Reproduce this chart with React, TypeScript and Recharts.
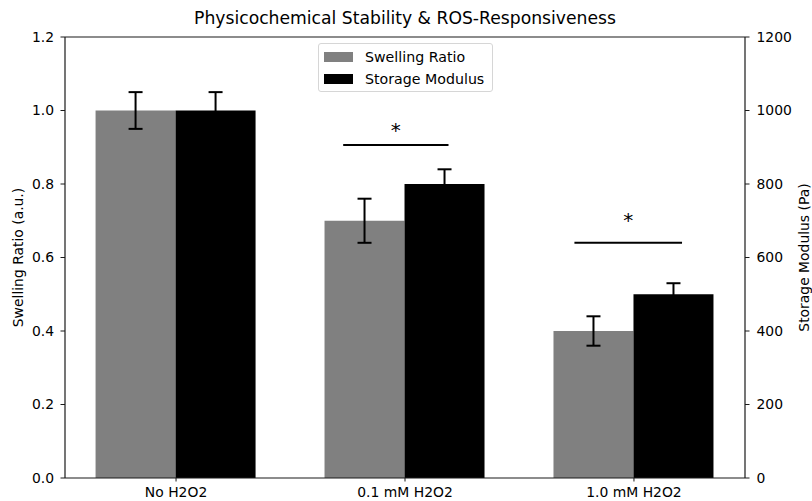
import React from "react";
import {
  BarChart,
  Bar,
  XAxis,
  YAxis,
  ErrorBar,
  ReferenceLine,
  ReferenceDot,
} from "recharts";

// ─── Data ─────────────────────────────────────────────────────────────────────

const categories = ["No H2O2", "0.1 mM H2O2", "1.0 mM H2O2"];
const swellingRatio = [1.0, 0.7, 0.4];
const swellingErr = [0.05, 0.06, 0.04];
const storageModulus = [1000, 800, 500];
const storageErr = [50, 40, 30];

const leftTicks = [0, 0.2, 0.4, 0.6, 0.8, 1.0, 1.2];
const rightTicks = [0, 200, 400, 600, 800, 1000, 1200];

// significance brackets: [x start, x end] in category units, bar height on left axis
const sigSpans = [
  [0.73, 1.19],
  [1.74, 2.21],
];
const sigLevels = [0.906, 0.64];
const sigStarLevels = [0.96, 0.713];

const data = categories.map((name, i) => ({
  pos: i,
  name,
  sr: swellingRatio[i],
  srErr: swellingErr[i],
  sm: storageModulus[i],
  smErr: storageErr[i],
}));

// ─── Styling ──────────────────────────────────────────────────────────────────

const FONT = "DejaVu Sans, sans-serif";
const GRAY = "#808080";
const BLACK = "#000000";
const AXIS = "#1a1a1a";
const tickStyle = { fontSize: 13.9, fill: "#000", fontFamily: FONT };

function fmtLeft(v: number) {
  return v.toFixed(1);
}

function AxisTitle({ viewBox, text, dx }: any) {
  const cx = viewBox.x + dx;
  const cy = viewBox.y + viewBox.height / 2;
  return (
    <text
      x={cx}
      y={cy}
      transform={`rotate(-90 ${cx} ${cy})`}
      textAnchor="middle"
      dominantBaseline="central"
      fontSize={13.9}
      fontFamily={FONT}
      fill="#000"
    >
      {text}
    </text>
  );
}

function Star({ cx = 0, cy = 0 }: any) {
  return (
    <text
      x={cx}
      y={cy + 11.5}
      textAnchor="middle"
      fontSize={20}
      fontFamily={FONT}
      fill="#000"
    >
      *
    </text>
  );
}

function LegendBox() {
  const rows = [
    { label: "Swelling Ratio", color: GRAY },
    { label: "Storage Modulus", color: BLACK },
  ];
  return (
    <div
      style={{
        position: "absolute",
        left: 318,
        top: 43,
        width: 175,
        height: 49,
        border: "1px solid #d6d6d6",
        borderRadius: 3,
        background: "rgba(255,255,255,0.85)",
        padding: "2px 0 0 5px",
        fontFamily: FONT,
        fontSize: 14.2,
        whiteSpace: "nowrap",
        boxSizing: "border-box",
      }}
    >
      {rows.map((r) => (
        <div
          key={r.label}
          style={{ display: "flex", alignItems: "center", height: 22 }}
        >
          <span
            style={{
              display: "inline-block",
              width: 29,
              height: 10,
              background: r.color,
              marginRight: 12,
            }}
          />
          <span>{r.label}</span>
        </div>
      ))}
    </div>
  );
}

// ─── Component ────────────────────────────────────────────────────────────────

export default function App() {
  return (
    <div
      style={{
        position: "absolute",
        left: 0,
        top: 0,
        width: 812,
        height: 501,
        background: "#fff",
        fontFamily: FONT,
      }}
    >
      <div
        style={{
          position: "absolute",
          left: 65,
          width: 680,
          top: 8,
          textAlign: "center",
          fontSize: 17.2,
          lineHeight: "20px",
          color: "#000",
          whiteSpace: "nowrap",
        }}
      >
        Physicochemical Stability &amp; ROS-Responsiveness
      </div>
      <BarChart
        width={812}
        height={501}
        data={data}
        margin={{ top: 37, right: 0, bottom: 0, left: 0 }}
        barGap={0}
        style={{ position: "absolute", left: 0, top: 0 }}
      >
        <XAxis
          dataKey="pos"
          type="number"
          domain={[-0.485, 2.485]}
          ticks={[0, 1, 2]}
          tickFormatter={(v: number) => categories[v] ?? ""}
          allowDataOverflow
          height={23}
          tick={tickStyle}
          tickSize={3.5}
          tickMargin={6}
          axisLine={{ stroke: AXIS, strokeWidth: 1.2 }}
          tickLine={{ stroke: AXIS, strokeWidth: 1 }}
          interval={0}
        />
        <YAxis
          yAxisId="left"
          domain={[0, 1.2]}
          ticks={leftTicks}
          tickFormatter={fmtLeft}
          width={65}
          tick={tickStyle}
          tickSize={4.5}
          tickMargin={6.5}
          axisLine={{ stroke: AXIS, strokeWidth: 1.2 }}
          tickLine={{ stroke: AXIS, strokeWidth: 1 }}
          label={(props: any) => (
            <AxisTitle {...props} text="Swelling Ratio (a.u.)" dx={18} />
          )}
        />
        <YAxis
          yAxisId="right"
          orientation="right"
          domain={[0, 1200]}
          ticks={rightTicks}
          width={67}
          tick={tickStyle}
          tickSize={4.5}
          tickMargin={7}
          axisLine={{ stroke: AXIS, strokeWidth: 1.2 }}
          tickLine={{ stroke: AXIS, strokeWidth: 1 }}
          label={(props: any) => (
            <AxisTitle {...props} text="Storage Modulus (Pa)" dx={59} />
          )}
        />
        <Bar
          yAxisId="left"
          dataKey="sr"
          name="Swelling Ratio"
          fill={GRAY}
          barSize={80}
          isAnimationActive={false}
        >
          <ErrorBar
            dataKey="srErr"
            width={7}
            stroke={BLACK}
            strokeWidth={2}
            direction="y"
          />
        </Bar>
        <Bar
          yAxisId="right"
          dataKey="sm"
          name="Storage Modulus"
          fill={BLACK}
          barSize={80}
          isAnimationActive={false}
        >
          <ErrorBar
            dataKey="smErr"
            width={7}
            stroke={BLACK}
            strokeWidth={2}
            direction="y"
          />
        </Bar>
        <ReferenceLine
          yAxisId="left"
          y={1.2}
          stroke={AXIS}
          strokeWidth={1.2}
          ifOverflow="extendDomain"
        />
        {sigSpans.map((span, i) => (
          <ReferenceLine
            key={`sig-${i}`}
            yAxisId="left"
            segment={[
              { x: span[0], y: sigLevels[i] },
              { x: span[1], y: sigLevels[i] },
            ]}
            stroke={BLACK}
            strokeWidth={2}
          />
        ))}
        {sigSpans.map((span, i) => (
          <ReferenceDot
            key={`star-${i}`}
            yAxisId="left"
            x={(span[0] + span[1]) / 2}
            y={sigStarLevels[i]}
            r={0}
            shape={(p: any) => <Star {...p} />}
          />
        ))}
      </BarChart>
      <LegendBox />
    </div>
  );
}
